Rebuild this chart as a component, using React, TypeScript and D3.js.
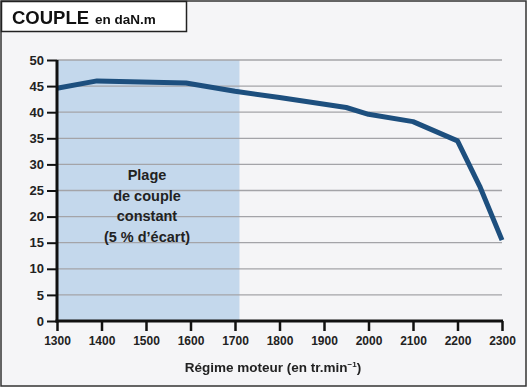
import { useEffect, useRef } from "react";
import * as d3 from "d3";

const rpm = [1300, 1390, 1590, 1700, 1800, 1950, 2000, 2100, 2200, 2250, 2300];
const torque = [44.6, 46.0, 45.6, 44.0, 42.8, 40.9, 39.6, 38.2, 34.5, 25.8, 15.5];
const xTicks = [1300, 1400, 1500, 1600, 1700, 1800, 1900, 2000, 2100, 2200, 2300];
const yTicks = [0, 5, 10, 15, 20, 25, 30, 35, 40, 45, 50];
const constantRange = [1300, 1710];
const zoneLines = ["Plage", "de couple", "constant", "(5 % d\u2019\u00e9cart)"];

const W = 528;
const H = 388;
const FONT = "'Liberation Sans Narrow', 'Arial Narrow', 'Liberation Sans', Arial, sans-serif";

const App = () => {
  const ref = useRef<SVGSVGElement>(null);

  useEffect(() => {
    const svg = d3.select(ref.current);
    svg.selectAll("*").remove();

    const x = d3.scaleLinear().domain([1300, 2300]).range([57, 502]);
    const y = d3.scaleLinear().domain([0, 50]).range([321, 60]);

    // background + frame
    svg.append("rect").attr("x", 1).attr("y", 1).attr("width", W - 3).attr("height", H - 3)
      .attr("fill", "#f5f5f7").attr("stroke", "#333").attr("stroke-width", 1.5);

    // shaded constant torque zone
    svg.append("rect")
      .attr("x", x(constantRange[0])).attr("y", y(50))
      .attr("width", x(constantRange[1]) - x(constantRange[0]))
      .attr("height", y(0) - y(50))
      .attr("fill", "#c4d8ec");

    // gridlines
    svg.append("g").selectAll("line").data(yTicks.filter((d) => d > 0)).join("line")
      .attr("x1", x(1300)).attr("x2", x(2300))
      .attr("y1", (d) => y(d)).attr("y2", (d) => y(d))
      .attr("stroke", "#a4a4a8").attr("stroke-width", 1.3);

    // zone label
    const zt = svg.append("text")
      .attr("x", 147).attr("text-anchor", "middle")
      .attr("font-family", FONT).attr("font-weight", "bold").attr("font-size", 14.5)
      .attr("fill", "#222");
    zoneLines.forEach((l, i) => {
      zt.append("tspan").attr("x", 147).attr("y", 180 + i * 20.7).text(l);
    });

    // torque curve
    const line = d3.line<number>()
      .x((_, i) => x(rpm[i]))
      .y((d) => y(d));
    svg.append("path").datum(torque)
      .attr("fill", "none").attr("stroke", "#1d4f7e").attr("stroke-width", 5)
      .attr("stroke-linejoin", "round").attr("d", line);

    // y axis
    const ya = svg.append("g").attr("transform", `translate(${x(1300)},0)`)
      .call(d3.axisLeft(y).tickValues(yTicks).tickSize(10).tickPadding(3));
    ya.select(".domain").remove();
    ya.selectAll(".tick line").attr("stroke", "#111").attr("stroke-width", 2);
    ya.selectAll(".tick text").attr("font-family", FONT).attr("font-weight", "bold")
      .attr("font-size", 13).attr("fill", "#222");

    // x axis
    const xa = svg.append("g").attr("transform", `translate(0,${y(0)})`)
      .call(d3.axisBottom(x).tickValues(xTicks).tickFormat(d3.format("d")).tickSize(10).tickPadding(5));
    xa.select(".domain").remove();
    xa.selectAll(".tick line").attr("stroke", "#111").attr("stroke-width", 2.5);
    xa.selectAll(".tick text").attr("font-family", FONT).attr("font-weight", "bold")
      .attr("font-size", 12).attr("fill", "#222");

    // axis lines
    svg.append("line").attr("x1", x(1300)).attr("x2", x(1300)).attr("y1", y(50)).attr("y2", y(0) + 1.5)
      .attr("stroke", "#111").attr("stroke-width", 3);
    svg.append("line").attr("x1", x(1300) - 1.5).attr("x2", x(2300) + 1).attr("y1", y(0)).attr("y2", y(0))
      .attr("stroke", "#111").attr("stroke-width", 3);

    // x axis title
    const xt = svg.append("text").attr("x", 273).attr("y", 372).attr("text-anchor", "middle")
      .attr("font-family", FONT).attr("font-weight", "bold").attr("font-size", 13.5).attr("fill", "#222");
    xt.append("tspan").text("R\u00e9gime moteur (en tr.min");
    xt.append("tspan").attr("font-size", 8).attr("dy", -5).text("\u22121");
    xt.append("tspan").attr("dy", 5).text(")");

    // title box
    svg.append("rect").attr("x", 1.5).attr("y", 1.5).attr("width", 185).attr("height", 30)
      .attr("fill", "#fff").attr("stroke", "#222").attr("stroke-width", 1.5);
    const tt = svg.append("text").attr("x", 12).attr("y", 24)
      .attr("font-family", "'Liberation Sans', Arial, sans-serif").attr("font-weight", "bold").attr("fill", "#111");
    tt.append("tspan").attr("font-size", 18.5).text("COUPLE");
    tt.append("tspan").attr("font-size", 13.5).attr("dx", 6).text("en daN.m");
  }, []);

  return (
    <div style={{ position: "fixed", left: 0, top: 0 }}>
      <svg ref={ref} width={W} height={H} style={{ display: "block" }} />
    </div>
  );
};

export default App;
